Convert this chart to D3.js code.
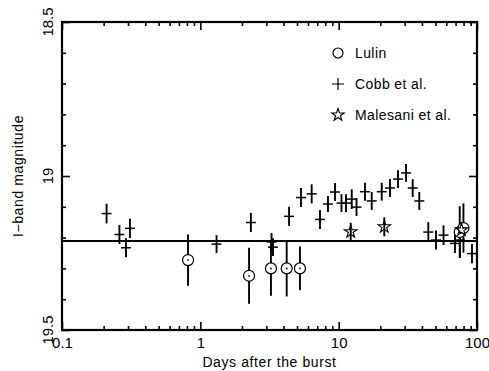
<!DOCTYPE html>
<html>
<head>
<meta charset="utf-8">
<script src="https://cdn.jsdelivr.net/npm/d3@7"></script>
<style>
  body { margin: 0; background: #fff; }
  svg { display: block; }
  text { font-family: "Liberation Sans", Arial, sans-serif; fill: #000; }
</style>
</head>
<body>
<div id="chart"></div>
<script>
// Cobb et al.: [days, magnitude, error]
const cobbDays = [0.210, 0.260, 0.290, 0.310, 1.31, 2.32, 3.27, 3.35, 4.38, 5.34, 6.38, 7.33, 8.37, 9.41,
  10.48, 11.30, 12.43, 13.46, 15.50, 17.33, 20.48, 23.50, 26.85, 30.68, 34.29, 38.28,
  44.46, 50.53, 57.28, 69.34, 75.4, 92.0];
const cobbMag = [19.122, 19.190, 19.233, 19.170, 19.221, 19.151, 19.214, 19.231, 19.131, 19.070, 19.058, 19.141, 19.091, 19.052,
  19.088, 19.088, 19.075, 19.101, 19.051, 19.081, 19.051, 19.039, 19.010, 18.990, 19.039, 19.081,
  19.182, 19.208, 19.192, 19.219, 19.208, 19.252];
const cobbErr = [0.032, 0.031, 0.031, 0.031, 0.029, 0.031, 0.029, 0.029, 0.031, 0.031, 0.031, 0.031, 0.026, 0.029,
  0.029, 0.029, 0.032, 0.029, 0.029, 0.029, 0.029, 0.029, 0.029, 0.029, 0.029, 0.029,
  0.032, 0.031, 0.032, 0.031, 0.058, 0.031];

// Lulin
const lulinDays = [0.815, 2.25, 3.24, 4.21, 5.25, 75.0, 79.8];
const lulinMag = [19.273, 19.324, 19.300, 19.300, 19.300, 19.182, 19.169];
const lulinErr = [0.083, 0.091, 0.089, 0.091, 0.071, 0.084, 0.080];

// Malesani et al.
const malDays = [12.22, 21.38, 77.3];
const malMag = [19.181, 19.165, 19.175];
const malErr = [0.029, 0.031, 0.0];

const hostMag = 19.211;

const xTicks = [0.1, 1, 10, 100];
const xTickLabels = ['0.1', '1', '10', '100'];
const yTicks = [18.5, 19, 19.5];
const yTickLabels = ['18.5', '19', '19.5'];
const legendLabels = ['Lulin', 'Cobb et al.', 'Malesani et al.'];

const width = 489, height = 371;
const margin = { left: 62, right: 12, top: 22, bottom: 41 };

const svg = d3.select('#chart').append('svg')
  .attr('width', width)
  .attr('height', height);

const x = d3.scaleLog().domain([0.1, 100]).range([margin.left, width - margin.right]);
const y = d3.scaleLinear().domain([18.5, 19.5]).range([margin.top, height - margin.bottom]);

// minor tick values
const xMinor = [];
[0.1, 1, 10].forEach(d => { for (let k = 2; k <= 9; k++) xMinor.push(d * k); });
const yMinor = d3.range(18.6, 19.45, 0.1).filter(v => Math.abs(v - 19) > 0.01);

function styleAxis(g) {
  g.select('.domain').remove();
  g.selectAll('line').attr('stroke', '#000').attr('stroke-width', 1.6);
}

// Axes with inward ticks on all four sides
const yBot = y.range()[1], yTop = y.range()[0];
const xLeft = x.range()[0], xRight = x.range()[1];

svg.append('g').attr('transform', `translate(0,${yBot})`)
  .call(d3.axisBottom(x).tickValues(xTicks).tickSize(-8).tickPadding(7).tickFormat((d, i) => xTickLabels[i]))
  .call(styleAxis)
  .call(g => g.selectAll('text').style('font-size', '15px').attr('font-family', null));
svg.append('g').attr('transform', `translate(0,${yBot})`)
  .call(d3.axisBottom(x).tickValues(xMinor).tickSize(-4).tickFormat(''))
  .call(styleAxis);
svg.append('g').attr('transform', `translate(0,${yTop})`)
  .call(d3.axisTop(x).tickValues(xTicks).tickSize(-8).tickFormat(''))
  .call(styleAxis);
svg.append('g').attr('transform', `translate(0,${yTop})`)
  .call(d3.axisTop(x).tickValues(xMinor).tickSize(-4).tickFormat(''))
  .call(styleAxis);

svg.append('g').attr('transform', `translate(${xLeft},0)`)
  .call(d3.axisLeft(y).tickValues(yTicks).tickSize(-8).tickFormat(''))
  .call(styleAxis);
svg.append('g').attr('transform', `translate(${xLeft},0)`)
  .call(d3.axisLeft(y).tickValues(yMinor).tickSize(-4).tickFormat(''))
  .call(styleAxis);
svg.append('g').attr('transform', `translate(${xRight},0)`)
  .call(d3.axisRight(y).tickValues(yTicks).tickSize(-8).tickFormat(''))
  .call(styleAxis);
svg.append('g').attr('transform', `translate(${xRight},0)`)
  .call(d3.axisRight(y).tickValues(yMinor).tickSize(-4).tickFormat(''))
  .call(styleAxis);

// rotated y tick labels
svg.append('g').selectAll('text')
  .data(yTicks)
  .join('text')
  .attr('transform', d => `translate(53,${y(d)}) rotate(-90)`)
  .attr('text-anchor', 'middle')
  .style('font-size', '15px')
  .text((d, i) => yTickLabels[i]);

// frame
svg.append('rect')
  .attr('x', xLeft).attr('y', yTop)
  .attr('width', xRight - xLeft).attr('height', yBot - yTop)
  .attr('fill', 'none').attr('stroke', '#000').attr('stroke-width', 2.2);

// axis titles
svg.append('text')
  .attr('x', (xLeft + xRight) / 2).attr('y', 367)
  .attr('text-anchor', 'middle')
  .style('font-size', '14px')
  .style('letter-spacing', '0.6px')
  .text('Days after the burst');

svg.append('text')
  .attr('transform', `translate(23,${(yTop + yBot) / 2}) rotate(-90)`)
  .attr('text-anchor', 'middle')
  .style('font-size', '14px')
  .style('letter-spacing', '0.6px')
  .text('I\u2212band magnitude');

// host level line
svg.append('line')
  .attr('x1', xLeft).attr('x2', xRight)
  .attr('y1', y(hostMag)).attr('y2', y(hostMag))
  .attr('stroke', '#000').attr('stroke-width', 1.8);

const plot = svg.append('g');

// Cobb et al. crosses
const cobb = cobbDays.map((d, i) => ({ d, m: cobbMag[i], e: cobbErr[i] }));
plot.selectAll('line.cobb-v')
  .data(cobb)
  .join('line')
  .attr('x1', p => x(p.d)).attr('x2', p => x(p.d))
  .attr('y1', p => y(p.m - p.e)).attr('y2', p => y(p.m + p.e))
  .attr('stroke', '#000').attr('stroke-width', 1.9);
plot.selectAll('line.cobb-h')
  .data(cobb)
  .join('line')
  .attr('x1', p => x(p.d) - 5).attr('x2', p => x(p.d) + 5)
  .attr('y1', p => y(p.m)).attr('y2', p => y(p.m))
  .attr('stroke', '#000').attr('stroke-width', 1.5);

// Lulin circles
const lulin = lulinDays.map((d, i) => ({ d, m: lulinMag[i], e: lulinErr[i] }));
plot.selectAll('line.lulin')
  .data(lulin)
  .join('line')
  .attr('x1', p => x(p.d)).attr('x2', p => x(p.d))
  .attr('y1', p => y(p.m - p.e)).attr('y2', p => y(p.m + p.e))
  .attr('stroke', '#000').attr('stroke-width', 1.9);
plot.selectAll('circle.lulin')
  .data(lulin)
  .join('circle')
  .attr('cx', p => x(p.d)).attr('cy', p => y(p.m))
  .attr('r', 5.5)
  .attr('fill', '#fff')
  .attr('stroke', '#000').attr('stroke-width', 1.2);
plot.selectAll('circle.lulin-dot')
  .data(lulin)
  .join('circle')
  .attr('cx', p => x(p.d)).attr('cy', p => y(p.m))
  .attr('r', 0.9)
  .attr('fill', '#000');

// Malesani stars
const starPath = d3.symbol().type(d3.symbolStar).size(48)();
const mal = malDays.map((d, i) => ({ d, m: malMag[i], e: malErr[i] }));
plot.selectAll('line.mal')
  .data(mal)
  .join('line')
  .attr('x1', p => x(p.d)).attr('x2', p => x(p.d))
  .attr('y1', p => y(p.m - p.e)).attr('y2', p => y(p.m + p.e))
  .attr('stroke', '#000').attr('stroke-width', 1.9);
plot.selectAll('path.mal')
  .data(mal)
  .join('path')
  .attr('d', starPath)
  .attr('transform', p => `translate(${x(p.d)},${y(p.m)})`)
  .attr('fill', 'none')
  .attr('stroke', '#000').attr('stroke-width', 1.1);

// legend
const leg = svg.append('g');
const legY = [53, 84, 115];
leg.append('circle').attr('cx', 338).attr('cy', legY[0]).attr('r', 5)
  .attr('fill', 'none').attr('stroke', '#000').attr('stroke-width', 1.2);
leg.append('path').attr('d', 'M-6,0H6M0,-6V6')
  .attr('transform', `translate(338,${legY[1]})`)
  .attr('stroke', '#000').attr('stroke-width', 1.2);
leg.append('path').attr('d', starPath)
  .attr('transform', `translate(338,${legY[2]})`)
  .attr('fill', 'none').attr('stroke', '#000').attr('stroke-width', 1.1);
leg.selectAll('text')
  .data(legendLabels)
  .join('text')
  .attr('x', 355)
  .attr('y', (d, i) => legY[i] + 5)
  .style('font-size', '14px')
  .style('letter-spacing', '0.4px')
  .text(d => d);
</script>
</body>
</html>
